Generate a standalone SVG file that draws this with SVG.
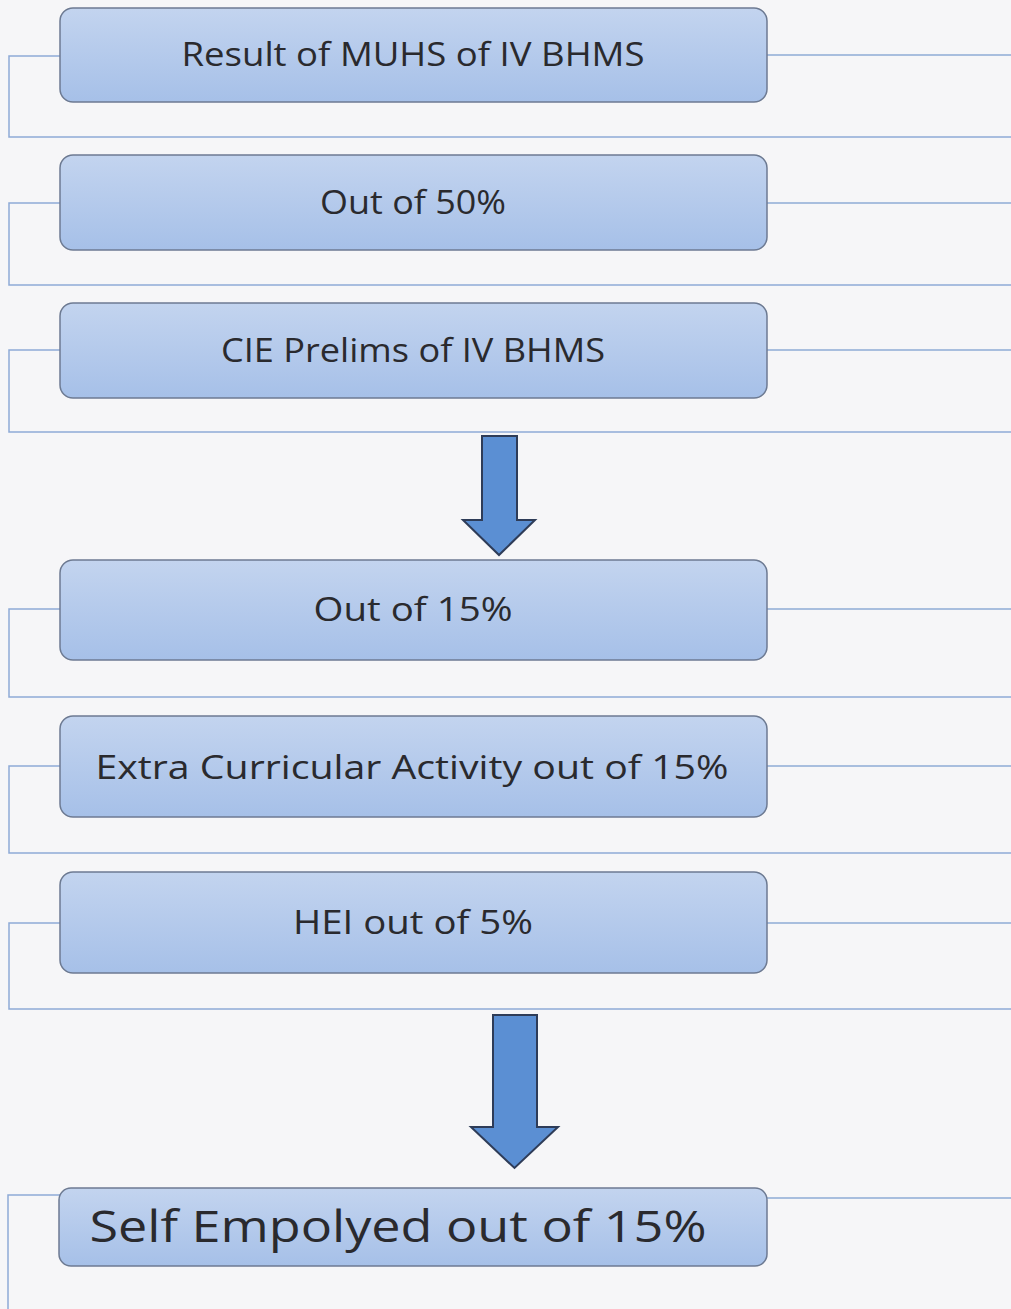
<svg xmlns="http://www.w3.org/2000/svg" width="1011" height="1309" viewBox="0 0 1011 1309">
<defs>
<linearGradient id="boxg" x1="0" y1="0" x2="0" y2="1">
<stop offset="0" stop-color="#c3d4ef"/>
<stop offset="1" stop-color="#a6c0e8"/>
</linearGradient>
<style>
.box{fill:url(#boxg);stroke:#6d7a92;stroke-width:1.5}
.lbl{font-family:"Open Sans","Liberation Sans",sans-serif;fill:#2a2a2e;text-anchor:middle}
.br{fill:none;stroke:#8eabd6;stroke-width:1.5}
.arr{fill:#5b8fd3;stroke:#2e3c58;stroke-width:2;stroke-linejoin:miter}
</style>
</defs>
<rect width="1011" height="1309" fill="#f6f6f8"/>
<g id="connectors">
<path class="br" d="M60 56H9V137H1011"/><path class="br" d="M767 55H1011"/>
<path class="br" d="M60 203H9V285H1011"/><path class="br" d="M767 203H1011"/>
<path class="br" d="M60 350H9V432H1011"/><path class="br" d="M767 350H1011"/>
<path class="br" d="M60 609H9V697H1011"/><path class="br" d="M767 609H1011"/>
<path class="br" d="M60 766H9V853H1011"/><path class="br" d="M767 766H1011"/>
<path class="br" d="M60 923H9V1009H1011"/><path class="br" d="M767 923H1011"/>
<path class="br" d="M60 1195H8V1309"/><path class="br" d="M767 1198H1011"/>
<path id="arrow1" class="arr" d="M482 436H517V520H535L499 555L463 520H482Z"/>
<path id="arrow2" class="arr" d="M493 1015H537V1127H558L514.5 1168L471 1127H493Z"/>
</g>
<g id="n1"><rect class="box" x="60" y="8" width="707" height="94" rx="13"/><text class="lbl" x="413" y="66" font-size="32" textLength="463" lengthAdjust="spacingAndGlyphs">Result of MUHS of IV BHMS</text></g>
<g id="n2"><rect class="box" x="60" y="155" width="707" height="95" rx="13"/><text class="lbl" x="413" y="214" font-size="32" textLength="186" lengthAdjust="spacingAndGlyphs">Out of 50%</text></g>
<g id="n3"><rect class="box" x="60" y="303" width="707" height="95" rx="13"/><text class="lbl" x="413" y="362" font-size="32" textLength="384" lengthAdjust="spacingAndGlyphs">CIE Prelims of IV BHMS</text></g>
<g id="n4"><rect class="box" x="60" y="560" width="707" height="100" rx="13"/><text class="lbl" x="413" y="621" font-size="33" textLength="199" lengthAdjust="spacingAndGlyphs">Out of 15%</text></g>
<g id="n5"><rect class="box" x="60" y="716" width="707" height="101" rx="13"/><text class="lbl" x="412" y="779" font-size="33" textLength="633" lengthAdjust="spacingAndGlyphs">Extra Curricular Activity  out of 15%</text></g>
<g id="n6"><rect class="box" x="60" y="872" width="707" height="101" rx="13"/><text class="lbl" x="413" y="934" font-size="33" textLength="240" lengthAdjust="spacingAndGlyphs">HEI out of 5%</text></g>
<g id="n7"><rect class="box" x="59" y="1188" width="708" height="78" rx="12"/><text class="lbl" x="398" y="1242" font-size="44" textLength="617" lengthAdjust="spacingAndGlyphs">Self Empolyed out of 15%</text></g>
</svg>
